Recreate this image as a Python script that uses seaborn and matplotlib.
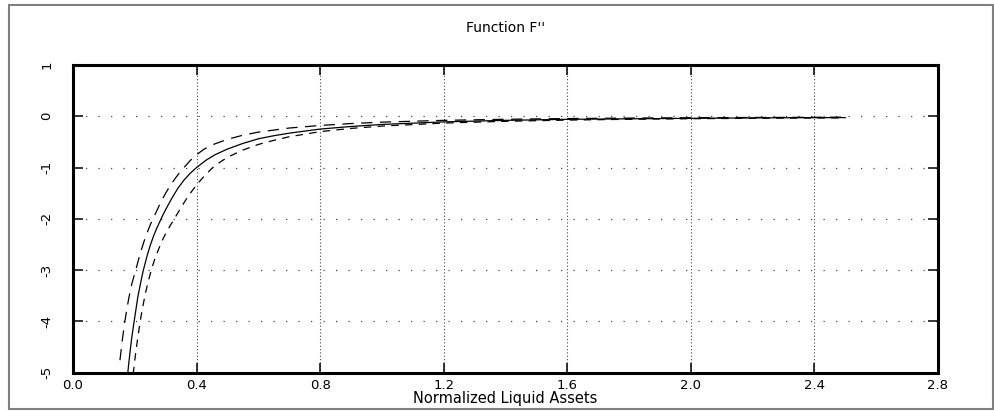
import numpy as np
import pandas as pd
import matplotlib
matplotlib.use("Agg")
import matplotlib.pyplot as plt
from matplotlib.patches import Rectangle
import seaborn as sns

# valores
x_mid = [0.17, 0.175, 0.18, 0.185, 0.19, 0.195, 0.20, 0.21, 0.22, 0.227, 0.24, 0.25, 0.26, 0.27,
         0.28, 0.29, 0.30, 0.32, 0.34, 0.36, 0.38, 0.40, 0.43, 0.46, 0.50, 0.55, 0.60, 0.65,
         0.70, 0.80, 0.90, 1.00, 1.20, 1.40, 1.60, 1.80, 2.00, 2.25, 2.50]
y_mid = [-5.5, -5.15, -4.85, -4.58, -4.33, -4.12, -3.92, -3.52, -3.22, -3.02, -2.72, -2.52, -2.35, -2.2,
         -2.07, -1.94, -1.82, -1.6, -1.4, -1.24, -1.11, -1.0, -0.86, -0.75, -0.64, -0.53, -0.44, -0.38,
         -0.33, -0.25, -0.20, -0.16, -0.11, -0.08, -0.06, -0.05, -0.04, -0.03, -0.026]

x_up = [0.152, 0.16, 0.168, 0.175, 0.18, 0.185, 0.19, 0.197, 0.204, 0.212, 0.22, 0.23, 0.24, 0.25,
        0.259, 0.27, 0.28, 0.29, 0.30, 0.315, 0.33, 0.345, 0.356, 0.37, 0.38, 0.40, 0.425, 0.45,
        0.50, 0.55, 0.60, 0.65, 0.70, 0.80, 0.90, 1.00, 1.20, 1.40, 1.60, 1.80, 2.00, 2.25, 2.50]
y_up = [-4.76, -4.35, -4.0, -3.74, -3.57, -3.42, -3.28, -3.13, -2.98, -2.8, -2.63, -2.44, -2.27, -2.12,
        -2.0, -1.86, -1.73, -1.61, -1.5, -1.35, -1.22, -1.1, -1.02, -0.93, -0.86, -0.75, -0.64, -0.56,
        -0.45, -0.37, -0.31, -0.27, -0.23, -0.18, -0.142, -0.115, -0.08, -0.059, -0.045, -0.036, -0.029,
        -0.023, -0.018]

x_low = [0.19, 0.195, 0.20, 0.205, 0.21, 0.217, 0.225, 0.235, 0.245, 0.255, 0.265, 0.28, 0.29, 0.30,
         0.315, 0.327, 0.34, 0.36, 0.38, 0.40, 0.42, 0.449, 0.475, 0.50, 0.55, 0.60, 0.65,
         0.70, 0.80, 0.90, 1.00, 1.20, 1.40, 1.60, 1.80, 2.00, 2.25, 2.50]
y_low = [-5.3, -5.02, -4.76, -4.52, -4.31, -4.02, -3.74, -3.44, -3.19, -2.97, -2.78, -2.55, -2.41, -2.29,
         -2.13, -2.01, -1.88, -1.68, -1.5, -1.34, -1.2, -1.02, -0.9, -0.8, -0.66, -0.55, -0.47,
         -0.4, -0.30, -0.237, -0.192, -0.133, -0.098, -0.075, -0.059, -0.048, -0.038, -0.031]

x_ticks = [0.0, 0.4, 0.8, 1.2, 1.6, 2.0, 2.4, 2.8]
x_labels = ["0.0", "0.4", "0.8", "1.2", "1.6", "2.0", "2.4", "2.8"]
y_ticks = [-5, -4, -3, -2, -1, 0, 1]
y_labels = ["-5", "-4", "-3", "-2", "-1", "0", "1"]

sns.set_style("white")
plt.rcParams['font.family'] = ['DejaVu Sans']
plt.rcParams['text.color'] = 'black'
plt.rcParams['axes.labelcolor'] = 'black'
plt.rcParams['xtick.bottom'] = True
plt.rcParams['xtick.top'] = True
plt.rcParams['ytick.left'] = True
plt.rcParams['ytick.right'] = True
plt.rcParams['xtick.direction'] = 'in'
plt.rcParams['ytick.direction'] = 'in'
plt.rcParams['xtick.major.size'] = 7
plt.rcParams['ytick.major.size'] = 7
plt.rcParams['xtick.major.width'] = 1.1
plt.rcParams['ytick.major.width'] = 1.1

fig = plt.figure(figsize=(9.94, 4.11), dpi=100)
ax = fig.add_axes([73 / 994, 1 - 372.5 / 411, (938 - 73) / 994, (372.5 - 65) / 411])

df_mid = pd.DataFrame({'x': x_mid, 'y': y_mid})
df_up = pd.DataFrame({'x': x_up, 'y': y_up})
df_low = pd.DataFrame({'x': x_low, 'y': y_low})

sns.lineplot(data=df_mid, x='x', y='y', ax=ax, color='black', linewidth=0.9, sort=False)
sns.lineplot(data=df_up, x='x', y='y', ax=ax, color='black', linewidth=0.9, sort=False,
             linestyle=(0, (9, 6)))
sns.lineplot(data=df_low, x='x', y='y', ax=ax, color='black', linewidth=0.9, sort=False,
             linestyle=(0, (6, 5)))

ax.set_xlim(0, 2.8)
ax.set_ylim(-5, 1)
ax.set_xticks(x_ticks)
ax.set_xticklabels(x_labels)
ax.set_yticks(y_ticks)
ax.set_yticklabels(y_labels, rotation=90, va='center')

# rejilla punteada
for xv in x_ticks[1:-1]:
    ax.axvline(xv, color='#444444', linewidth=0.8, linestyle=(0, (1, 2)), zorder=0)
for yv in y_ticks[1:-1]:
    ax.axhline(yv, color='#444444', linewidth=0.9, linestyle=(0, (1, 9)), zorder=0)

ax.tick_params(colors='black', labelsize=9.5)
ax.tick_params(axis='x', pad=5)
ax.tick_params(axis='y', pad=14)
for s in ax.spines.values():
    s.set_visible(True)
    s.set_linewidth(2.2)
    s.set_color('black')

ax.set_title("Function F''", fontsize=10, pad=24, color='black')
ax.set_xlabel("Normalized Liquid Assets", fontsize=10.5, labelpad=-1, color='black')
ax.set_ylabel("")

fig.patches.append(Rectangle((9 / 994, 1 - 409 / 411), (993 - 9) / 994, (409 - 5) / 411,
                             transform=fig.transFigure, fill=False, edgecolor='#808080',
                             linewidth=1.5))

fig.savefig("out.png", dpi=100)
